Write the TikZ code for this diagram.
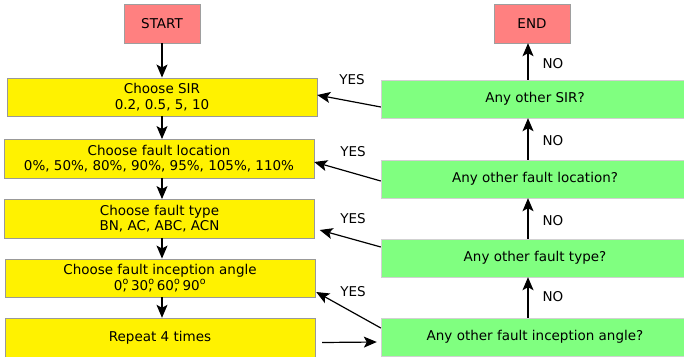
\documentclass[tikz,border=0pt]{standalone}
\usepackage{fontspec}
\setmainfont{DejaVu Sans}
\usetikzlibrary{arrows.meta}
\begin{document}
\begin{tikzpicture}[x=1pt,y=-1pt,
  font=\fontsize{13.5}{15.5}\selectfont,
  terminal/.style={draw=black!38,fill={rgb,255:red,255;green,128;blue,128},
    minimum width=76pt,minimum height=39pt,inner sep=0pt},
  task/.style={draw=black!40,fill=yellow,align=center,
    minimum width=310pt,minimum height=38.5pt,inner sep=0pt},
  query/.style={draw=black!18,fill={rgb,255:red,128;green,255;blue,128},
    minimum width=308pt,minimum height=38pt,inner sep=0pt},
  flow/.style={draw=black,line width=1.2pt,-{Stealth[length=13pt,width=11pt,inset=3pt]}},
  tag/.style={inner sep=0pt}]
\useasboundingbox (0,0) rectangle (684,356);
\clip (0,0) rectangle (684,356);

% left column: nested loop settings
\node[terminal] (start) at (162,23.5) {START};
\node[task] (sir)  at (162,97)    {Choose SIR\\0.2, 0.5, 5, 10};
\node[task] (loc)  at (159,158.5) {Choose fault location\\0\%, 50\%, 80\%, 90\%, 95\%, 105\%, 110\%};
\node[task] (typ)  at (159.5,218.5) {Choose fault type\\BN, AC, ABC, ACN};
\node[task] (ang)  at (160,278)   {Choose fault inception angle\\
  0\rlap{\textsuperscript{o}}, 30\rlap{\textsuperscript{o}}, 60\rlap{\textsuperscript{o}}, 90\textsuperscript{o}};
\node[task,minimum height=40pt] (rep) at (160,338) {Repeat 4 times};

% right column: loop checks
\node[terminal] (end) at (532,23.5) {END};
\node[query] (qsir) at (535,99)  {Any other SIR?};
\node[query] (qloc) at (535,179) {Any other fault location?};
\node[query] (qtyp) at (535,258) {Any other fault type?};
\node[query] (qang) at (535,337) {Any other fault inception angle?};

% downward chain
\draw[flow] (start.south -| sir.north) -- (sir.north);
\draw[flow] (sir.south -| 162,0) -- (loc.north -| 162,0);
\draw[flow] (loc.south -| 162,0) -- (typ.north -| 162,0);
\draw[flow] (typ.south -| 162,0) -- (ang.north -| 162,0);
\draw[flow] (ang.south -| 162,0) -- (rep.north -| 162,0);
\draw[flow] ([xshift=7pt,yshift=-4.5pt]rep.east) -- ([xshift=-4pt,yshift=-5pt]qang.west);

% NO branches going up
\draw[flow] ([xshift=-7pt]qang.north) -- ([xshift=-7pt]qtyp.south);
\draw[flow] ([xshift=-7pt]qtyp.north) -- ([xshift=-7pt]qloc.south);
\draw[flow] ([xshift=-7pt]qloc.north) -- ([xshift=-7pt]qsir.south);
\draw[flow] ([xshift=-7pt]qsir.north) -- ([xshift=-7pt]qsir.north |- end.south);
\node[tag] at (553,64)  {NO};
\node[tag] at (553,141) {NO};
\node[tag] at (553,221) {NO};
\node[tag] at (553,297) {NO};

% YES branches back to the left
\draw[flow] ([yshift=-8pt]qsir.west) -- ([yshift=2pt]sir.east);
\draw[flow] ([yshift=-2pt]qloc.west) -- ([yshift=-3.5pt]loc.east);
\draw[flow] ([yshift=11pt]qtyp.west) -- ([xshift=5pt,yshift=-11.5pt]typ.east);
\draw[flow] ([yshift=9pt]qang.west) -- ([xshift=1pt,yshift=-14pt]ang.east);
\node[tag] at (352,80)  {YES};
\node[tag] at (353,152) {YES};
\node[tag] at (353,219) {YES};
\node[tag] at (353,292) {YES};
\end{tikzpicture}
\end{document}
